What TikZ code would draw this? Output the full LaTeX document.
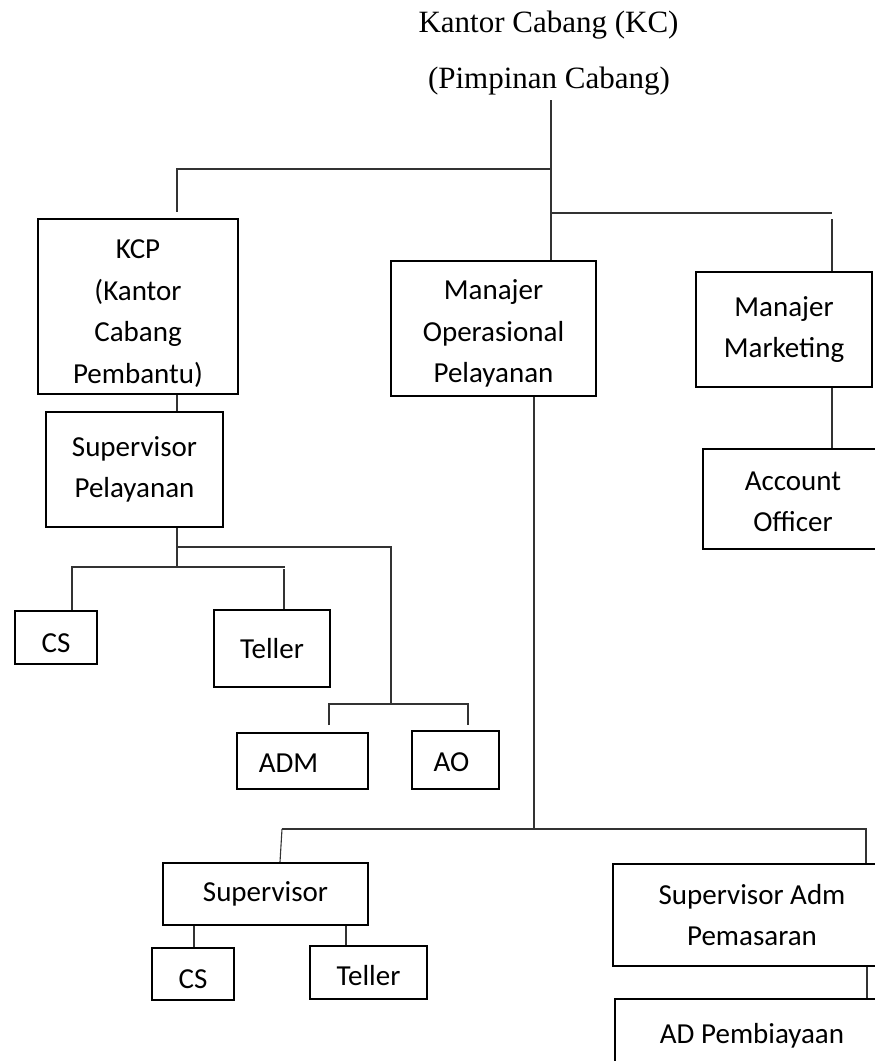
\documentclass[tikz,border=0pt]{standalone}
\usepackage{fontspec}
\setmainfont{Carlito}
\newfontfamily\titlefont{Liberation Serif}
\begin{document}
\begin{tikzpicture}[x=1pt,y=-1pt,
  box/.style={draw=black,line width=2pt,inner sep=0pt,align=center,
    font=\fontsize{29}{41.5}\selectfont},
  txt/.style={inner sep=0pt,align=center,font=\fontsize{29}{41.5}\selectfont},
  conn/.style={draw=black!80,line width=1.1pt},
  ttl/.style={inner sep=0pt,anchor=base,font=\titlefont\fontsize{31}{36}\selectfont}]
\useasboundingbox (0,0) rectangle (875,1061);
\clip (0,0) rectangle (875,1061);
% titles
\node[ttl] (t1) at (548.5,32) {Kantor Cabang (KC)};
\node[ttl] (t2) at (549,88) {(Pimpinan Cabang)};
% boxes
\node[box,minimum width=200pt,minimum height=175pt] (kcp) at (138,306.5) {};
\node[txt] (kcpT) at ([yshift=-7pt]kcp.center) {KCP\\(Kantor\\Cabang\\Pembantu)};
\node[box,minimum width=205pt,minimum height=135pt] (mop) at (493.5,328.5) {};
\node[txt] (mopT) at ([yshift=-5pt]mop.center) {Manajer\\Operasional\\Pelayanan};
\node[box,minimum width=176pt,minimum height=115pt] (mm) at (784,329.5) {Manajer\\Marketing};
\node[box,minimum width=177pt,minimum height=115pt] (sp) at (134.5,469.5) {Supervisor\\Pelayanan};
\node[box,minimum width=180pt,minimum height=100pt] (ao1) at (793,499) {};
\node[txt] (ao1T) at ([yshift=-3pt]ao1.center) {Account\\Officer};
\node[box,minimum width=82pt,minimum height=53pt,text height=30pt,text depth=0pt] (cs1) at (56,637.5) {CS};
\node[box,minimum width=116pt,minimum height=77pt] (tel1) at (272,648.5) {Teller};
\node[box,align=left,minimum width=131pt,minimum height=56pt,text height=22pt,text depth=0pt] (adm) at (302.5,761) {ADM\hspace*{28pt}};
\node[box,minimum width=87pt,minimum height=58pt,text height=22pt,text depth=0pt] (ao2) at (455.5,760) {AO\hspace*{8pt}};
\node[box,minimum width=205pt,minimum height=62pt] (sup) at (265.5,894) {Supervisor};
\node[box,minimum width=82pt,minimum height=52pt,text height=29pt,text depth=0pt] (cs2) at (193,974) {CS};
\node[box,minimum width=117pt,minimum height=53pt,text height=26pt,text depth=0pt] (tel2) at (368.5,972.5) {Teller};
\node[box,minimum width=278pt,minimum height=102pt] (sadm) at (752,915) {Supervisor Adm\\Pemasaran};
\node[box,minimum width=274pt,minimum height=68pt,text height=26pt,text depth=5.5pt] (ad) at (752,1033) {AD Pembiayaan};
% junction coordinates
\coordinate (c0) at (551,100);
\coordinate (j1) at (551,169);
\coordinate (j2) at (551,213);
\coordinate (kl) at (177,169);
\coordinate (kd) at (177,212);
\coordinate (mr) at (832,213);
\coordinate (mt) at (832,219);
\coordinate (s1) at (177,547);
\coordinate (s2) at (177,567);
\coordinate (s3) at (391,547);
\coordinate (s4) at (391,704);
\coordinate (a1) at (329,704);
\coordinate (a2) at (468,704);
\coordinate (a1d) at (329,725);
\coordinate (a2d) at (468,725);
\coordinate (h1) at (72,567);
\coordinate (h2) at (285,567);
\coordinate (h3) at (284,569);
\coordinate (o1) at (534,829);
\coordinate (o2) at (282,829);
\coordinate (o3) at (866,829);
% connectors
\draw[conn] (c0) -- (mop.north -| c0);
\draw[conn] (j1) -- (kl) -- (kd);
\draw[conn] (j2) -- (mr);
\draw[conn] (mt) -- (mm.north -| mt);
\draw[conn] (kcp.south -| kd) -- (sp.north -| kd);
\draw[conn] (sp.south -| s2) -- (s2);
\draw[conn] (s1) -- (s3) -- (s4);
\draw[conn] (a1d) -- (a1) -- (a2) -- (a2d);
\draw[conn] (h1 |- cs1.north) -- (h1) -- (h2);
\draw[conn] (h3) -- (tel1.north -| h3);
\draw[conn] (mm.south -| mt) -- (ao1.north -| mt);
\draw[conn] (mop.south -| o1) -- (o1);
\draw[conn] (o2) -- (o3) -- (sadm.north -| o3);
\draw[conn] (o2) -- ([xshift=-2pt]sup.north -| o2);
\draw[conn] (sup.south -| 194,0) -- (cs2.north -| 194,0);
\draw[conn] (sup.south -| 346,0) -- (tel2.north -| 346,0);
\draw[conn] (sadm.south -| 867,0) -- (ad.north -| 867,0);
\end{tikzpicture}
\end{document}
